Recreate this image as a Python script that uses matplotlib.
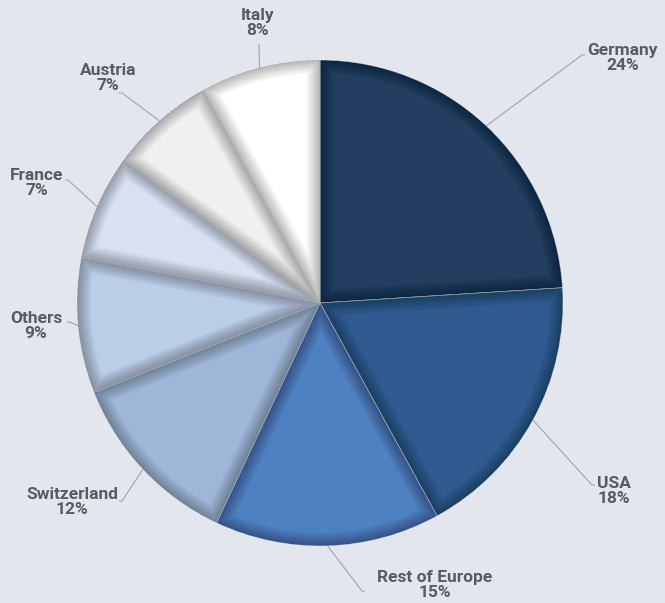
import matplotlib.pyplot as plt
from matplotlib.patches import Wedge
import numpy as np

# market share by region
regions = ['Germany', 'USA', 'Rest of Europe', 'Switzerland', 'Others', 'France', 'Austria', 'Italy']
shares = [24, 18, 15, 12, 9, 7, 7, 8]
colors = ['#233e60', '#305b90', '#4d81c1', '#9eb7d9', '#bbcee7', '#d8e1f0', '#f0f0f1', '#ffffff']

W, H = 665, 603
BG = '#e4e6ee'
CX, CY, R = 320, H - 303, 243

# label centre (px from top-left) and leader end point
label_pos = [(623, 58), (614, 491), (435, 585), (72, 502), (36, 326), (37, 183), (108, 78), (258, 23)]
leader_end = [(582, 55), (592, 485), (362, 591), (122, 501), (70, 322), (68, 180), (122, 93), (259, 44)]

fig = plt.figure(figsize=(W / 100, H / 100), dpi=100, facecolor=BG)
ax = fig.add_axes([0, 0, 1, 1])
ax.set_facecolor(BG)

wedges, _ = ax.pie(shares, colors=colors, startangle=90, counterclock=False,
                   center=(CX, CY), radius=R, frame=True,
                   wedgeprops=dict(edgecolor='#f2f4f8', linewidth=0.5))
ax.set_xlim(0, W)
ax.set_ylim(0, H)
ax.set_aspect('equal')
ax.axis('off')

# soft inner shadow: stacked translucent outlines clipped to each slice
for w in wedges:
    for lw in np.linspace(1, 20, 24):
        sh = Wedge(w.center, w.r, w.theta1, w.theta2, fill=False,
                   edgecolor='black', linewidth=lw, alpha=0.012,
                   zorder=w.get_zorder() + 0.1)
        ax.add_patch(sh)
        sh.set_clip_path(w)

# labels and leader lines
for w, name, val, (tx, ty), (ex, ey) in zip(wedges, regions, shares, label_pos, leader_end):
    mid = np.deg2rad((w.theta1 + w.theta2) / 2)
    sx, sy = CX + R * np.cos(mid), CY + R * np.sin(mid)
    ey = H - ey
    hook = 3 if ex > CX else -3
    if name == 'Italy':
        hook = 0
    ax.plot([sx, ex, ex + hook], [sy, ey, ey], color='#a0a2a8', linewidth=0.8,
            solid_capstyle='butt', zorder=5)
    ax.text(tx, H - ty, f'{name}\n{val}%', ha='center', va='center',
            fontsize=12.5, fontweight='bold', family='Roboto', color='#5a5b60',
            linespacing=0.95, zorder=6)

fig.savefig('out.png', dpi=100, facecolor=BG)
